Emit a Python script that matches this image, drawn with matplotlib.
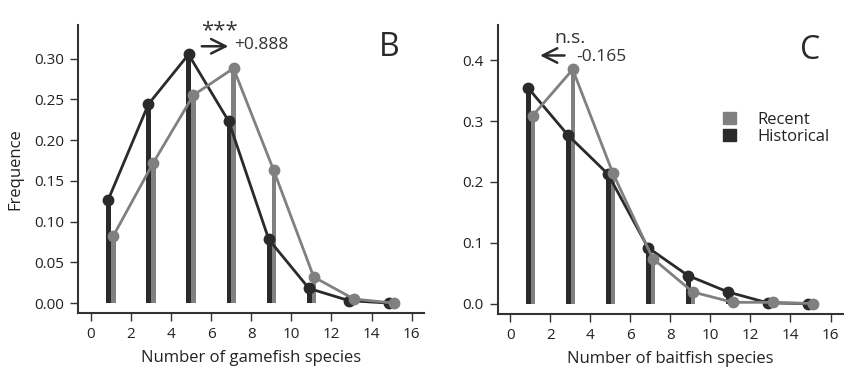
import numpy as np
import matplotlib
matplotlib.use("Agg")
import matplotlib.pyplot as plt
from matplotlib.patches import Patch

plt.rcParams['font.family'] = ['Open Sans', 'DejaVu Sans']

# data
richness = [1, 3, 5, 7, 9, 11, 13, 15]
game_hist = [0.127, 0.244, 0.305, 0.223, 0.078, 0.018, 0.003, 0.0]
game_recent = [0.082, 0.172, 0.255, 0.288, 0.163, 0.032, 0.005, 0.0]
bait_hist = [0.355, 0.277, 0.213, 0.092, 0.046, 0.019, 0.001, 0.0]
bait_recent = [0.309, 0.385, 0.215, 0.074, 0.019, 0.002, 0.002, 0.0]

DARK = '#2a2a2a'
GREY = '#808080'
AX = '#333333'

fig = plt.figure(figsize=(8.61, 3.80), dpi=100)
axB = fig.add_axes([0.0906, 0.176, 0.402, 0.758])
axC = fig.add_axes([0.578, 0.174, 0.401, 0.760])


def panel(ax, hist, recent, ylim, yticks, fmt, xlabel):
    x = np.array(richness, dtype=float)
    ax.bar(x - 0.1, hist, width=0.25, color=DARK, zorder=1)
    ax.bar(x + 0.13, recent, width=0.23, color=GREY, zorder=1)
    ax.plot(x - 0.12, hist, '-o', color=DARK, lw=2, ms=7.5, zorder=3)
    ax.plot(x + 0.12, recent, '-o', color=GREY, lw=2, ms=7.5, zorder=4)
    ax.set_xlim(-0.63, 16.62)
    ax.set_ylim(*ylim)
    ax.set_xticks(range(0, 17, 2))
    ax.set_yticks(yticks)
    ax.set_yticklabels([fmt.format(v) for v in yticks])
    for s in ['top', 'right']:
        ax.spines[s].set_visible(False)
    for s in ['left', 'bottom']:
        ax.spines[s].set_linewidth(1.5)
        ax.spines[s].set_color(AX)
    ax.tick_params(length=6, width=1, color=AX, labelsize=11, labelcolor='#222222', pad=4)
    ax.set_xlabel(xlabel, fontsize=12, color='#222222', labelpad=6)


panel(axB, game_hist, game_recent, (-0.0123, 0.341),
      [0.0, 0.05, 0.10, 0.15, 0.20, 0.25, 0.30], '{:.2f}', 'Number of gamefish species')
panel(axC, bait_hist, bait_recent, (-0.017, 0.458),
      [0.0, 0.1, 0.2, 0.3, 0.4], '{:.1f}', 'Number of baitfish species')

axB.set_ylabel('Frequence', fontsize=12, color='#222222', labelpad=8)

# annotations B
axB.annotate('', xy=(7.0, 0.315), xytext=(5.4, 0.315),
             arrowprops=dict(arrowstyle='->', color=DARK, lw=1.8, mutation_scale=26))
axB.text(6.4, 0.321, '***', fontsize=16, ha='center', va='bottom', color='#333333')
axB.text(7.15, 0.316, '+0.888', fontsize=12.5, ha='left', va='center', color='#333333')
axB.text(14.9, 0.314, 'B', fontsize=23, ha='center', va='center', color=DARK)

# annotations C
axC.annotate('', xy=(1.35, 0.408), xytext=(2.85, 0.408),
             arrowprops=dict(arrowstyle='->', color=DARK, lw=1.8, mutation_scale=26))
axC.text(3.0, 0.428, 'n.s.', fontsize=14, ha='center', va='baseline', color='#333333')
axC.text(3.3, 0.405, '-0.165', fontsize=12.5, ha='left', va='center', color='#333333')
axC.text(14.97, 0.417, 'C', fontsize=23, ha='center', va='center', color=DARK)

handles = [Patch(color=GREY, label='Recent'), Patch(color=DARK, label='Historical')]
axC.legend(handles=handles, loc='upper left', bbox_to_anchor=(0.652, 0.70),
           frameon=False, fontsize=12, handlelength=0.8, handleheight=0.8,
           handletextpad=1.3, labelspacing=0.05, borderpad=0, borderaxespad=0,
           labelcolor='#222222')

fig.savefig('out.png', dpi=100)
